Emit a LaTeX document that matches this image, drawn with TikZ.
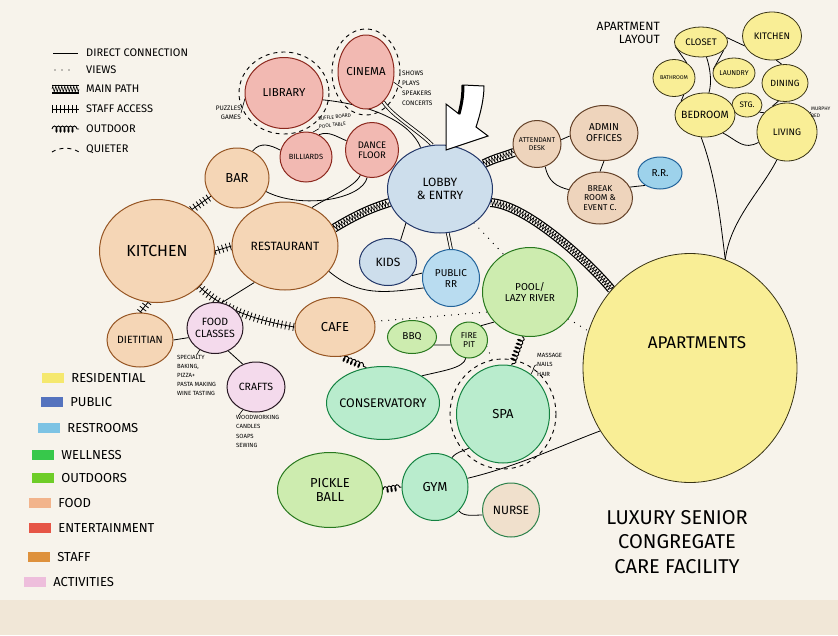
\documentclass[tikz,border=0pt]{standalone}
\usepackage{fontspec}
\setmainfont{Fira Sans}
\usetikzlibrary{shapes.geometric,positioning,decorations.pathmorphing,decorations.pathreplacing}
\definecolor{paper}{RGB}{247,243,235}
\definecolor{stain}{RGB}{241,231,215}
\definecolor{foodfl}{RGB}{245,214,182}
\definecolor{foodln}{RGB}{150,85,35}
\definecolor{entfl}{RGB}{242,185,178}
\definecolor{entln}{RGB}{140,40,30}
\definecolor{pubfl}{RGB}{205,222,236}
\definecolor{publn}{RGB}{35,55,105}
\definecolor{restfl}{RGB}{185,220,240}
\definecolor{restln}{RGB}{35,100,155}
\definecolor{stafffl}{RGB}{238,212,188}
\definecolor{staffln}{RGB}{100,65,40}
\definecolor{outfl}{RGB}{205,236,175}
\definecolor{outln}{RGB}{40,120,30}
\definecolor{wellfl}{RGB}{185,236,205}
\definecolor{wellln}{RGB}{20,130,65}
\definecolor{resfl}{RGB}{249,238,150}
\definecolor{resln}{RGB}{55,50,20}
\definecolor{actfl}{RGB}{244,218,236}
\definecolor{actln}{RGB}{40,25,35}
\definecolor{nursefl}{RGB}{240,224,204}
\definecolor{nurseln}{RGB}{45,130,75}
\definecolor{sres}{RGB}{245,232,110}
\definecolor{spub}{RGB}{85,115,190}
\definecolor{srest}{RGB}{125,195,228}
\definecolor{swell}{RGB}{55,200,75}
\definecolor{soutd}{RGB}{110,205,40}
\definecolor{sfood}{RGB}{242,180,140}
\definecolor{sent}{RGB}{230,85,70}
\definecolor{sstaff}{RGB}{222,145,60}
\definecolor{sact}{RGB}{238,190,220}
\pgfdeclarelayer{bg}
\pgfsetlayers{bg,main}

\begin{document}
\begin{tikzpicture}[
    x=1pt, y=-1pt,
    bubble/.style={ellipse, inner sep=0pt, line width=1pt},
    foodb/.style={bubble, draw=foodln, fill=foodfl},
    entb/.style={bubble, draw=entln, fill=entfl},
    pubb/.style={bubble, draw=publn, fill=pubfl},
    restb/.style={bubble, draw=restln, fill=restfl},
    staffb/.style={bubble, draw=staffln, fill=stafffl},
    outb/.style={bubble, draw=outln, fill=outfl},
    wellb/.style={bubble, draw=wellln, fill=wellfl},
    resb/.style={bubble, draw=resln, fill=resfl, line width=0.8pt},
    actb/.style={bubble, draw=actln, fill=actfl},
    nurseb/.style={bubble, draw=nurseln, fill=nursefl},
    lbl/.style={font=\fontsize{#1}{\fpeval{1.1*#1}}\selectfont, align=center, inner sep=0pt},
    lbl/.default=12,
    note/.style 2 args={font=\fontsize{#1}{#2}\selectfont, align=left, inner sep=0pt},
    lgtxt/.style={font=\fontsize{#1}{#1}\selectfont, inner sep=0pt, anchor=west},
    swatch/.style={rectangle, minimum width=22pt, minimum height=10pt, inner sep=0pt},
    link/.style={draw, line width=0.8pt},
    pair/.style={link, double=paper, double distance=2pt},
    views/.style={draw, line width=1.3pt, line cap=round, dash pattern=on 0pt off 7pt},
    mainpath/.style={draw=black, line width=9pt,
        postaction={draw=paper, line width=6.6pt},
        postaction={draw=black, line width=0.6pt, decorate,
            decoration={zigzag, amplitude=3pt, segment length=3pt}}},
    staff/.style={link, postaction={draw, decorate,
            decoration={ticks, segment length=4pt, amplitude=4pt}}},
    outdoor/.style={draw, line width=0.9pt, decorate,
        decoration={coil, amplitude=3pt, segment length=4pt, aspect=0.5}},
    quietline/.style={draw, line width=0.9pt, dash pattern=on 4pt off 4pt}
]
\useasboundingbox (0,0) rectangle (838,635);

\node[entb, minimum width=78, minimum height=71, label={[lbl=11.5]center:LIBRARY}] (library) at (284,93) {};
\node[entb, minimum width=56, minimum height=74, label={[lbl=11.5]center:CINEMA}] (cinema) at (366,72) {};
\node[entb, minimum width=52, minimum height=50, label={[lbl=7.5]center:BILLIARDS}] (billiards) at (306,157) {};
\node[entb, minimum width=53, minimum height=55, label={[lbl=9.5]center:DANCE\\FLOOR}] (dance) at (372,150) {};
\node[foodb, minimum width=64, minimum height=60, label={[lbl=13]center:BAR}] (bar) at (237,178) {};
\node[pubb, minimum width=105, minimum height=88, label={[lbl=12]center:LOBBY\\\& ENTRY}] (lobby) at (440,189) {};
\node[staffb, minimum width=48, minimum height=47, label={[lbl=7]center:ATTENDANT\\DESK}] (attend) at (537,144) {};
\node[staffb, minimum width=68, minimum height=55, label={[lbl=10]center:ADMIN\\OFFICES}] (admin) at (604,133) {};
\node[staffb, minimum width=65, minimum height=52, label={[lbl=8.5]center:BREAK\\ROOM \&\\EVENT C.}] (breakrm) at (600,198) {};
\node[restb, fill=srest!75, minimum width=44, minimum height=32, label={[lbl=10]center:R.R.}] (rrest) at (660,173) {};

\node[resb, minimum width=214, minimum height=229, label={[lbl=17, xshift=7pt, yshift=25pt]center:APARTMENTS}] (apts) at (690,368) {};
\node[resb, minimum width=53, minimum height=30, label={[lbl=9.5]center:CLOSET}] (closet) at (701,42) {};
\node[resb, minimum width=59, minimum height=48, label={[lbl=9.5]center:KITCHEN}] (aptkitchen) at (772,36) {};
\node[resb, minimum width=42, minimum height=37, label={[lbl=5.5]center:BATHROOM}] (bath) at (674,78) {};
\node[resb, minimum width=42, minimum height=30, label={[lbl=7]center:LAUNDRY}] (laundry) at (734,73) {};
\node[resb, minimum width=46, minimum height=37, label={[lbl=9]center:DINING}] (dining) at (785,83) {};
\node[resb, minimum width=30, minimum height=24, label={[lbl=8]center:STG.}] (stg) at (747,105) {};
\node[resb, minimum width=60, minimum height=44, label={[lbl=10.5]center:BEDROOM}] (bedroom) at (705,115) {};
\node[resb, minimum width=60, minimum height=58, label={[lbl=9.5]center:LIVING}] (living) at (787,132) {};

\node[foodb, minimum width=115, minimum height=103, label={[lbl=16]center:KITCHEN}] (kitchen) at (157,251) {};
\node[foodb, minimum width=106, minimum height=88, label={[lbl=12]center:RESTAURANT}] (restaurant) at (285,246) {};
\node[foodb, minimum width=66, minimum height=54, label={[lbl=10.5]center:DIETITIAN}] (dietitian) at (140,340) {};
\node[actb, minimum width=56, minimum height=51, label={[lbl=10.5]center:FOOD\\CLASSES}] (foodcls) at (215,328) {};
\node[actb, minimum width=58, minimum height=50, label={[lbl=10.5]center:CRAFTS}] (crafts) at (256,387) {};
\node[foodb, minimum width=80, minimum height=59, label={[lbl=13]center:CAFE}] (cafe) at (335,327) {};
\node[pubb, minimum width=57, minimum height=47, label={[lbl=12]center:KIDS}] (kids) at (388,262) {};
\node[restb, minimum width=57, minimum height=57, label={[lbl=10]center:PUBLIC\\RR}] (publicrr) at (451,278) {};
\node[outb, minimum width=95, minimum height=89, label={[lbl=10]center:POOL/\\LAZY RIVER}] (pool) at (530,292) {};
\node[outb, minimum width=49, minimum height=33, label={[lbl=10]center:BBQ}] (bbq) at (412,337) {};
\node[outb, minimum width=37, minimum height=36, label={[lbl=8.5]center:FIRE\\PIT}] (firepit) at (469,340) {};
\node[wellb, minimum width=113, minimum height=73, label={[lbl=12.5]center:CONSERVATORY}] (conserv) at (383,403) {};
\node[wellb, minimum width=93, minimum height=98, label={[lbl=13]center:SPA}] (spa) at (503,414) {};
\node[outb, minimum width=105, minimum height=75, label={[lbl=13]center:PICKLE\\BALL}] (pickle) at (330,490) {};
\node[wellb, minimum width=66, minimum height=67, label={[lbl=13]center:GYM}] (gym) at (435,487) {};
\node[nurseb, minimum width=57, minimum height=54, label={[lbl=12]center:NURSE}] (nurse) at (511,510) {};

\draw[quietline] (library.center) ellipse [x radius=45, y radius=41];
\draw[quietline] (cinema.center) ellipse [x radius=34, y radius=43];
\draw[quietline] (spa.center) ellipse [x radius=53, y radius=55];

\node[note={6.5}{9}, anchor=east, align=right] (puznote) at (241,113) {PUZZLES\\GAMES};
\node[note={6.5}{10}, anchor=west] (cinnote) at (402,88) {SHOWS\\PLAYS\\SPEAKERS\\CONCERTS};
\node[note={5}{8}, rotate=6] (shufnote) at (335,121) {SUFFLE BOARD\\POOL TABLE};
\node[note={6}{9}, anchor=north west] (fcnote) at (177,355) {SPECIALTY\\BAKING,\\PIZZA+\\PASTA MAKING\\WINE TASTING};
\node[note={6}{9.5}, anchor=north west] (crnote) at (236,415) {WOODWORKING\\CANDLES\\SOAPS\\SEWING};
\node[note={6}{9.5}, anchor=north west] (spanote) at (537,353) {MASSAGE\\NAILS\\HAIR};
\node[note={5}{7}, anchor=west] (murnote) at (811,112) {MURPHY\\BED};
\node[lbl=12, align=right, anchor=east] (aptlay) at (660,33) {APARTMENT\\LAYOUT};
\node[font=\fontsize{20}{24.5}\selectfont, align=center] (title) at (677,542) {LUXURY SENIOR\\CONGREGATE\\CARE FACILITY};

\draw[line width=1pt, fill=white] (463,85) .. controls (463,98) and (461,106) .. (459,114)
  -- (446,104) -- (446,150) -- (488,136) -- (476,127)
  .. controls (481,112) and (484,98) .. (484,86) -- cycle;
\draw[line width=3pt] (463,85) .. controls (463,98) and (461,106) .. (459,114);

\node[lgtxt=11] (lgdirect) at (86,53) {DIRECT CONNECTION};
\node[lgtxt=11] (lgviews) at (86,70) {VIEWS};
\node[lgtxt=11] (lgmain) at (86,89) {MAIN PATH};
\node[lgtxt=11] (lgstaff) at (86,109) {STAFF ACCESS};
\node[lgtxt=11] (lgout) at (86,129) {OUTDOOR};
\node[lgtxt=11] (lgquiet) at (86,149) {QUIETER};
\draw[link] ([xshift=-33pt]lgdirect.west) -- ++(25,0);
\draw[views] ([xshift=-31pt]lgviews.west) -- ++(20,0);
\draw[mainpath] ([xshift=-34pt]lgmain.west) -- ++(27,0);
\draw[staff] ([xshift=-34pt]lgstaff.west) -- ++(27,0);
\draw[outdoor] ([xshift=-34pt]lgout.west) -- ++(27,0);
\draw[quietline] ([xshift=-34pt,yshift=-3pt]lgquiet.west) .. controls +(8,-5) and +(-8,-5) .. ++(27,0);

\node[swatch, fill=sres] (swres) at (53,378) {};
\node[lgtxt=13, right=7pt of swres] (txres) {RESIDENTIAL};
\node[swatch, fill=spub] (swpub) at (52,402) {};
\node[lgtxt=13, right=7pt of swpub] (txpub) {PUBLIC};
\node[swatch, fill=srest] (swrest) at (49,428) {};
\node[lgtxt=13, right=7pt of swrest] (txrest) {RESTROOMS};
\node[swatch, fill=swell] (swwell) at (43,455) {};
\node[lgtxt=13, right=7pt of swwell] (txwell) {WELLNESS};
\node[swatch, fill=soutd] (swoutd) at (43,478) {};
\node[lgtxt=13, right=7pt of swoutd] (txoutd) {OUTDOORS};
\node[swatch, fill=sfood] (swfood) at (40,503) {};
\node[lgtxt=13, right=7pt of swfood] (txfood) {FOOD};
\node[swatch, fill=sent] (swent) at (40,528) {};
\node[lgtxt=13, right=7pt of swent] (txent) {ENTERTAINMENT};
\node[swatch, fill=sstaff] (swstaff) at (39,557) {};
\node[lgtxt=13, right=7pt of swstaff] (txstaff) {STAFF};
\node[swatch, fill=sact] (swact) at (35,582) {};
\node[lgtxt=13, right=7pt of swact] (txact) {ACTIVITIES};

\begin{pgfonlayer}{bg}
\fill[paper] (0,0) rectangle (838,635);
\fill[stain] (0,600) rectangle (838,635);

\draw[mainpath] (restaurant.20) .. controls +(20,-12) and +(-20,6) .. (lobby.195);
\draw[mainpath] (lobby.30) .. controls +(12,-6) and +(-10,4) .. (attend.200);
\draw[mainpath] (lobby.-15) .. controls +(35,2) and +(-25,-30) .. (apts.135);

\draw[staff] (kitchen.50) -- (bar.215);
\draw[staff] (kitchen.east) -- (restaurant.west);
\draw[staff] (kitchen.-100) -- (dietitian.north);
\draw[staff] (kitchen.-40) .. controls +(25,25) and +(-30,-5) .. (cafe.west);

\draw[outdoor] (cafe.-80) -- (conserv.115);
\draw[outdoor] (pool.-100) -- (spa.80);
\draw[outdoor] (pickle.east) -- (gym.west);

\draw[views] (cafe.8) -- (pool.205);
\draw[views] (pool.-35) -- (apts.160);
\draw[views] (lobby.-45) -- (pool.125);
\draw[views] (firepit.-20) -- (spa.100);

\draw[link] (library.-10) .. controls +(50,5) and +(-10,-25) .. (lobby.115);
\draw[pair] (cinema.-60) .. controls +(10,15) and +(-15,-15) .. (lobby.100);
\draw[link] (bar.60) .. controls +(8,-10) and +(-10,-5) .. (billiards.165);
\draw[link] (bar.-25) .. controls +(35,18) and +(-5,22) .. (dance.-100);
\draw[link] (billiards.60) .. controls +(10,-4) and +(-10,-4) .. (dance.160);
\draw[link] (restaurant.55) .. controls +(15,-10) and +(-5,12) .. (dance.-115);
\draw[link] (restaurant.-30) .. controls +(30,25) and +(-40,5) .. (publicrr.200);
\draw[link] (lobby.225) -- (kids.60);
\draw[pair] (lobby.-80) -- (publicrr.north);
\draw[link] (kids.-30) -- (publicrr.170);
\draw[link] (attend.10) -- (admin.185);
\draw[link] (attend.-70) .. controls +(3,15) and +(-12,-3) .. (breakrm.165);
\draw[link] (admin.-90) -- (breakrm.90);
\draw[link] (breakrm.20) -- (rrest.220);
\draw[link] (foodcls.75) -- (restaurant.-130);
\draw[link] (dietitian.east) -- (foodcls.200);
\draw[link] (foodcls.-60) -- (crafts.120);
\draw[link] (conserv.35) .. controls +(20,-5) and +(-2,10) .. (firepit.-100);
\draw[link] (bbq.-20) -- (firepit.195);
\draw[link] (firepit.50) -- (pool.220);
\draw[link] (spa.225) .. controls +(-8,4) and +(5,-6) .. (gym.60);
\draw[link] (gym.15) .. controls +(50,-12) and +(-40,15) .. (apts.215);
\draw[link] (gym.-45) .. controls +(5,6) and +(-10,0) .. (nurse.190);

\draw[link] (bedroom.-100) .. controls +(15,40) and +(-5,-40) .. (apts.72);
\draw[link] (living.-110) .. controls +(-15,30) and +(5,-40) .. (apts.72);
\draw[link] (bath.50) -- (closet.190);
\draw[link] (closet.-70) .. controls +(4,12) and +(3,-10) .. (bedroom.80);
\draw[link] (closet.-20) -- (laundry.170);
\draw[link] (closet.10) -- (aptkitchen.200);
\draw[link] (aptkitchen.-80) -- (dining.100);
\draw[link] (bath.-60) -- (bedroom.150);
\draw[link] (bedroom.20) -- (stg.180);
\draw[link] (stg.-30) -- (living.140);
\draw[link] (dining.-110) -- (living.120);
\draw[link] (bedroom.-45) .. controls +(15,8) and +(-15,8) .. (living.-160);

\draw[link, line width=0.6pt] (puznote.east) -- (library.188);
\draw[link, line width=0.6pt] (cinema.-20) -- (cinnote.west);
\draw[link, line width=0.6pt] (shufnote.south west) -- (billiards.75);
\draw[link, line width=0.6pt] (foodcls.-125) -- (fcnote.north);
\draw[link, line width=0.6pt] (crafts.-120) -- ([xshift=3pt]crnote.north west);
\draw[link, line width=0.6pt] (spa.55) .. controls +(4,-6) and +(-4,0) .. (spanote.west);
\draw[link, line width=0.6pt] (living.40) -- (murnote.west);
\end{pgfonlayer}
\end{tikzpicture}
\end{document}
